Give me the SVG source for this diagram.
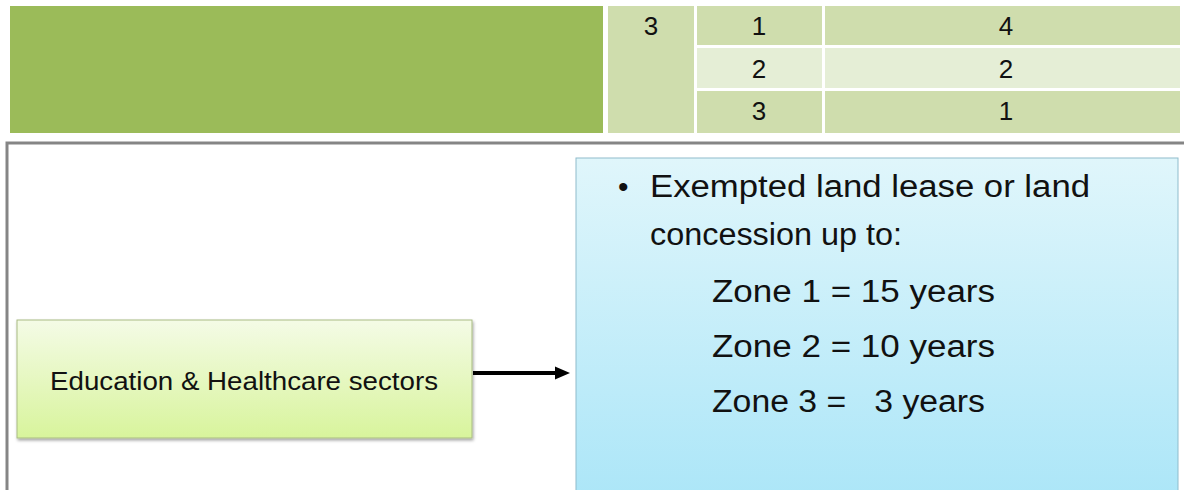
<svg xmlns="http://www.w3.org/2000/svg" width="1184" height="490" viewBox="0 0 1184 490">
<defs>
<linearGradient id="gGreen" x1="0" y1="0" x2="0" y2="1">
<stop offset="0" stop-color="#f4fbe6"/>
<stop offset="1" stop-color="#d8f49c"/>
</linearGradient>
<linearGradient id="gBlue" x1="0" y1="0" x2="0" y2="1">
<stop offset="0" stop-color="#e0f6fb"/>
<stop offset="1" stop-color="#ace6f8"/>
</linearGradient>
<filter id="sh" x="-5%" y="-5%" width="110%" height="115%">
<feDropShadow dx="1" dy="2" stdDeviation="1.5" flood-color="#000" flood-opacity="0.35"/>
</filter>
<marker id="arr" markerWidth="16" markerHeight="14" refX="1" refY="7" orient="auto" markerUnits="userSpaceOnUse">
<path d="M0,0.5 L15,7 L0,13.5 Z" fill="#000"/>
</marker>
</defs>
<style>
.num{font-family:"Liberation Sans",Arial,sans-serif;font-size:26px;fill:#111;text-anchor:middle}
.txt{font-family:"Liberation Sans",Arial,sans-serif;fill:#111}
.dark{fill:#cfddad}
.light{fill:#e5eed6}
</style>
<rect width="1184" height="490" fill="#fff"/>
<g id="header">
<rect x="10" y="6" width="593" height="127" fill="#9bbb59"/>
<rect x="608" y="6" width="86" height="127" class="dark"/>
<rect x="697" y="6" width="125" height="39" class="dark"/>
<rect x="825" y="6" width="355" height="39" class="dark"/>
<rect x="697" y="48" width="125" height="40" class="light"/>
<rect x="825" y="48" width="355" height="40" class="light"/>
<rect x="697" y="91" width="125" height="42" class="dark"/>
<rect x="825" y="91" width="355" height="42" class="dark"/>
<text class="num" x="651" y="35">3</text>
<text class="num" x="759" y="35">1</text>
<text class="num" x="1006" y="35">4</text>
<text class="num" x="759" y="78">2</text>
<text class="num" x="1006" y="78">2</text>
<text class="num" x="759" y="120">3</text>
<text class="num" x="1006" y="120">1</text>
</g>
<g id="frame">
<path d="M7,492 L7,143 L1186,143" fill="none" stroke="#858585" stroke-width="3"/>
</g>
<g id="node-sectors">
<rect x="17" y="320" width="455" height="118" fill="url(#gGreen)" stroke="#a9bb83" stroke-width="1" filter="url(#sh)"/>
<text class="txt" x="50" y="390" font-size="25" textLength="388" lengthAdjust="spacingAndGlyphs">Education &amp; Healthcare sectors</text>
</g>
<g id="node-exemption">
<rect x="576" y="158" width="602" height="340" fill="url(#gBlue)" stroke="#8fbccc" stroke-width="1"/>
<text class="txt" x="618" y="197" font-size="30">•</text>
<text class="txt" x="650" y="197" font-size="31" textLength="440" lengthAdjust="spacingAndGlyphs">Exempted land lease or land</text>
<text class="txt" x="650" y="245" font-size="31" textLength="252" lengthAdjust="spacingAndGlyphs">concession up to:</text>
<text class="txt" x="712" y="302" font-size="31" textLength="283" lengthAdjust="spacingAndGlyphs">Zone 1 =  15 years</text>
<text class="txt" x="712" y="357" font-size="31" textLength="283" lengthAdjust="spacingAndGlyphs">Zone 2 =  10 years</text>
<text class="txt" x="712" y="412" font-size="31" textLength="273" lengthAdjust="spacingAndGlyphs" xml:space="preserve">Zone 3 =   3 years</text>
</g>
<g id="connectors">
<line x1="473" y1="373" x2="556" y2="373" stroke="#000" stroke-width="4" marker-end="url(#arr)"/>
</g>
</svg>
